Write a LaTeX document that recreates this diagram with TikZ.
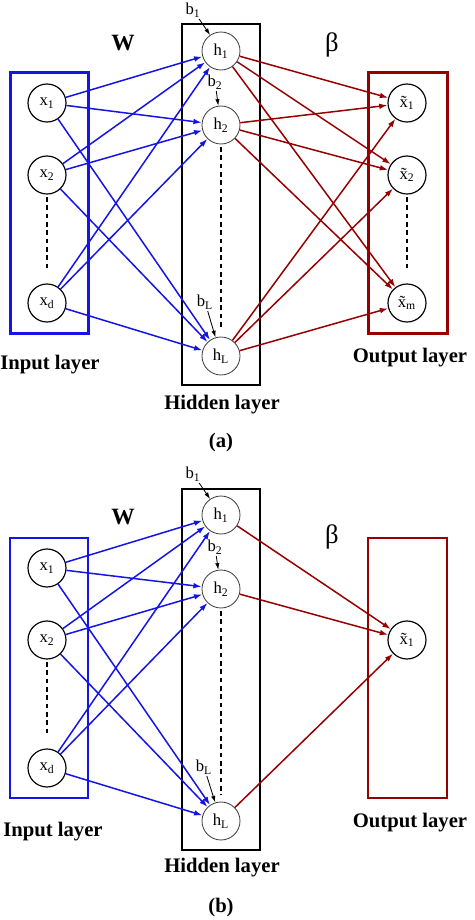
\documentclass[tikz,border=0pt]{standalone}
\usepackage{fontspec}
\setmainfont{Liberation Serif}
\usetikzlibrary{arrows.meta}
\definecolor{wblue}{RGB}{20,20,230}
\definecolor{betared}{RGB}{150,0,0}

\begin{document}
\begin{tikzpicture}[x=0.6pt,y=-0.6pt,
  unit/.style={circle,draw,line width=0.7pt,minimum size=22.8pt,inner sep=0pt,font=\fontsize{10}{10}\selectfont},
  hunit/.style={unit,draw=black!75,line width=0.5pt},
  wline/.style={draw=wblue,line width=0.9pt,-{Latex[length=5pt,width=3.4pt]}},
  bline/.style={draw=betared,line width=0.9pt,-{Latex[length=5pt,width=3.4pt]}},
  bias/.style={line width=0.5pt,-{Latex[length=4pt,width=2.6pt]}},
  blab/.style={font=\fontsize{10}{10}\selectfont,inner sep=1pt},
  title/.style={font=\fontsize{12.4}{12}\selectfont\bfseries},
  dots/.style={line width=0.8pt,dash pattern=on 2.8pt off 2.2pt}]
\useasboundingbox (0,0) rectangle (474,920);

% (a)
\draw[wblue,line width=1.8pt] (10,73) rectangle (88,333);
\draw[line width=1.5pt] (182,24) rectangle (260,385);
\draw[betared,line width=1.8pt] (368,73) rectangle (447,333);

\node[unit] (a-x1) at (47,103) {x\textsubscript{1}};
\node[unit] (a-x2) at (47,175) {x\textsubscript{2}};
\node[unit] (a-xd) at (47,303) {x\textsubscript{d}};
\node[hunit] (a-h1) at (221,51) {h\textsubscript{1}};
\node[hunit] (a-h2) at (221,125) {h\textsubscript{2}};
\node[hunit] (a-hL) at (221,356) {h\textsubscript{L}};
\node[unit] (a-y1) at (407,103) {\~{x}\textsubscript{1}};
\node[unit] (a-y2) at (407,175) {\~{x}\textsubscript{2}};
\node[unit] (a-ym) at (407,303) {\~{x}\textsubscript{m}};

\draw[dots] (47,197) -- (47,268);
\draw[dots] (221,147) -- (221,330);
\draw[dots] (407,197) -- (407,268);

\node[blab] (a-b1) at (193,10) {b\textsubscript{1}};
\node[blab] (a-b2) at (215,82) {b\textsubscript{2}};
\node[blab] (a-bL) at (205,302) {b\textsubscript{L}};
\draw[bias] (a-b1) -- (a-h1);
\draw[bias] (a-b2) -- (a-h2);
\draw[bias] (a-bL) -- (a-hL);

\draw[wline] (a-x1) edge (a-h1) edge (a-h2) edge (a-hL);
\draw[wline] (a-x2) edge (a-h1) edge (a-h2) edge (a-hL);
\draw[wline] (a-xd) edge (a-h1) edge (a-h2) edge (a-hL);
\draw[bline] (a-h1) edge (a-y1) edge (a-y2) edge (a-ym);
\draw[bline] (a-h2) edge (a-y1) edge (a-y2) edge (a-ym);
\draw[bline] (a-hL) edge (a-y1) edge (a-y2) edge (a-ym);

\node[font=\fontsize{14}{14}\selectfont\bfseries] (a-w) at (123,43) {W};
\node[font=\fontsize{16}{16}\selectfont] (a-beta) at (332,45) {β};
\node[title] (a-inlab) at (50,365) {Input layer};
\node[title] (a-hidlab) at (222,405) {Hidden layer};
\node[title] (a-outlab) at (410,358) {Output layer};
\node[title] (a-cap) at (221,443) {(a)};

% (b)
\begin{scope}[shift={(0,465)}]
\draw[wblue,line width=0.9pt] (10,73) rectangle (88,333);
\draw[line width=1.5pt] (182,24) rectangle (260,385);
\draw[betared,line width=0.9pt] (368,73) rectangle (447,333);

\node[unit] (b-x1) at (47,103) {x\textsubscript{1}};
\node[unit] (b-x2) at (47,175) {x\textsubscript{2}};
\node[unit] (b-xd) at (47,303) {x\textsubscript{d}};
\node[hunit] (b-h1) at (221,50) {h\textsubscript{1}};
\node[hunit] (b-h2) at (221,124) {h\textsubscript{2}};
\node[hunit] (b-hL) at (221,356) {h\textsubscript{L}};
\node[unit] (b-y1) at (407,175) {\~{x}\textsubscript{1}};

\draw[dots] (47,197) -- (47,268);
\draw[dots] (221,146) -- (221,330);

\node[blab] (b-b1) at (193,9) {b\textsubscript{1}};
\node[blab] (b-b2) at (215,82) {b\textsubscript{2}};
\node[blab] (b-bL) at (204,302) {b\textsubscript{L}};
\draw[bias] (b-b1) -- (b-h1);
\draw[bias] (b-b2) -- (b-h2);
\draw[bias] (b-bL) -- (b-hL);

\draw[wline] (b-x1) edge (b-h1) edge (b-h2) edge (b-hL);
\draw[wline] (b-x2) edge (b-h1) edge (b-h2) edge (b-hL);
\draw[wline] (b-xd) edge (b-h1) edge (b-h2) edge (b-hL);
\draw[bline] (b-h1) edge (b-y1);
\draw[bline] (b-h2) edge (b-y1);
\draw[bline] (b-hL) edge (b-y1);

\node[font=\fontsize{14}{14}\selectfont\bfseries] (b-w) at (123,52) {W};
\node[font=\fontsize{16}{16}\selectfont] (b-beta) at (332,72) {β};
\node[title] (b-inlab) at (53,367) {Input layer};
\node[title] (b-hidlab) at (222,403) {Hidden layer};
\node[title] (b-outlab) at (410,358) {Output layer};
\node[title] (b-cap) at (221,443) {(b)};
\end{scope}
\end{tikzpicture}
\end{document}
